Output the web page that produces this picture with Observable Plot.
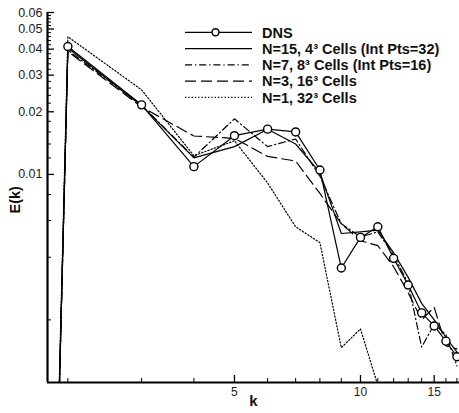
<!DOCTYPE html>
<html><head><meta charset="utf-8">
<script src="https://cdn.jsdelivr.net/npm/d3@7"></script>
<script src="https://cdn.jsdelivr.net/npm/@observablehq/plot@0.6"></script>
<style>
body{margin:0;background:#fff;}
#wrap{position:relative;width:459px;height:413px;font-family:"Liberation Sans",Arial,Helvetica,sans-serif;}
#legend{position:absolute;left:0;top:0;pointer-events:none;}
</style></head><body><div id="wrap"></div>
<script>
// ---- data ----
const k = [1,2,3,4,5,6,7,8,9,10,11,12,13,14,15,16,17];
const eDNS = [3e-26,0.0412,0.0216,0.0109,0.01535,0.0165,0.0160,0.0105,0.00355,0.00498,0.0056,0.00395,0.00294,0.00216,0.00187,0.00158,0.00133];
const eN15 = [3e-26,0.0405,0.0214,0.0120,0.0136,0.0165,0.0140,0.0102,0.0052,0.0053,0.0054,0.0042,0.0032,0.0024,0.0020,0.00165,0.0014];
const eN7  = [3e-26,0.0395,0.0215,0.0121,0.0185,0.0136,0.0148,0.0098,0.0058,0.0050,0.0053,0.0041,0.0030,0.00148,0.0019,0.0017,0.0012];
const eN3  = [3e-26,0.0390,0.0211,0.0153,0.0149,0.0122,0.0116,0.0081,0.0058,0.0048,0.00455,0.0036,0.0027,0.0020,0.0023,0.0015,0.00145];
const eN1  = [3e-26,0.0459,0.0255,0.0123,0.0145,0.0091,0.0056,0.0047,0.00147,0.00181,0.00097];
const seriesNames = ["DNS","N=15, 4³ Cells (Int Pts=32)","N=7, 8³ Cells (Int Pts=16)","N=3, 16³ Cells","N=1, 32³ Cells"];
const xMajor = [5,10,15];
const xMinor = [2,3,4,6,7,8,9,11,12,13,14,16,17];
const yMajor = [0.01,0.02,0.03,0.04,0.05,0.06];
const yMinor = [0.002,0.004,0.006,0.008].concat(d3.range(12,60,2).filter(v=>v%10!==0).map(v=>v/1000));

// ---- styles ----
const dashes = [null,null,"7,3,1.2,3","11,5","1.3,2"];
const seriesE = [eDNS,eN15,eN7,eN3,eN1];
const rows = seriesE.map((arr,i)=>arr.map((e,j)=>({k:k[j],E:e,s:seriesNames[i]})));

const W=459,H=413,mt=12,mb=31,ml=47,mr=0;
const fh=H-mt-mb, fw=W-ml-mr;
const xDom=[1.788,17.24], yDom=[0.001,0.06];

const marks = [];
rows.forEach((r,i)=>{
  marks.push(Plot.line(r,{x:"k",y:"E",stroke:"black",strokeWidth:1.2,strokeDasharray:dashes[i],clip:true}));
});
marks.push(Plot.dot(rows[0].slice(1),{x:"k",y:"E",r:4,stroke:"black",fill:"white",strokeWidth:1.4,clip:true}));
marks.push(Plot.tickX(xMajor,{x:d=>d,insetTop:fh-7,stroke:"black",strokeWidth:1.3}));
marks.push(Plot.tickX(xMinor,{x:d=>d,insetTop:fh-4,stroke:"black",strokeWidth:1}));
marks.push(Plot.tickY(yMajor,{y:d=>d,insetRight:fw-7,stroke:"black",strokeWidth:1.3}));
marks.push(Plot.tickY(yMinor,{y:d=>d,insetRight:fw-4,stroke:"black",strokeWidth:1}));
marks.push(Plot.axisX(xMajor,{tickSize:0,tickPadding:5,tickFormat:d=>String(d),label:null,fontSize:12,fill:"#222"}));
marks.push(Plot.axisY(yMajor,{tickSize:0,tickPadding:5,tickFormat:d=>d.toFixed(2),label:null,fontSize:12.5,fill:"#222"}));
marks.push(Plot.ruleY([yDom[0]],{stroke:"black",strokeWidth:2.2}));
marks.push(Plot.ruleX([xDom[0]],{stroke:"black",strokeWidth:2.2}));
marks.push(Plot.text(["k"],{frameAnchor:"bottom",dy:23,fontSize:15,fontWeight:"bold",fill:"#111"}));
marks.push(Plot.text(["E(k)"],{frameAnchor:"left",dx:-32,dy:16,rotate:-90,fontSize:14.5,fontWeight:"bold",fill:"#111"}));

const chart = Plot.plot({
  width:W,height:H,marginTop:mt,marginBottom:mb,marginLeft:ml,marginRight:mr,
  style:{fontFamily:'"Liberation Sans",Arial,sans-serif',background:"white",overflow:"visible"},
  x:{type:"log",domain:xDom},
  y:{type:"log",domain:yDom},
  marks
});
const wrap=document.getElementById("wrap");
wrap.appendChild(chart);

// ---- legend overlay ----
const ns="http://www.w3.org/2000/svg";
const lg=document.createElementNS(ns,"svg");
lg.setAttribute("id","legend");lg.setAttribute("width",W);lg.setAttribute("height",H);
const lx1=185,lx2=252,tx=262,ly0=32.3,ldy=16.25;
seriesNames.forEach((name,i)=>{
  const y=ly0+i*ldy;
  const ln=document.createElementNS(ns,"line");
  ln.setAttribute("x1",lx1);ln.setAttribute("x2",lx2);ln.setAttribute("y1",y);ln.setAttribute("y2",y);
  ln.setAttribute("stroke","black");ln.setAttribute("stroke-width",1.2);
  if(dashes[i]) ln.setAttribute("stroke-dasharray",dashes[i]);
  lg.appendChild(ln);
  if(i===0){
    const c=document.createElementNS(ns,"circle");
    c.setAttribute("cx",(lx1+lx2)/2-3);c.setAttribute("cy",y);c.setAttribute("r",3.5);
    c.setAttribute("fill","white");c.setAttribute("stroke","black");c.setAttribute("stroke-width",1.4);
    lg.appendChild(c);
  }
  const t=document.createElementNS(ns,"text");
  t.setAttribute("x",tx);t.setAttribute("y",y);t.setAttribute("dy","0.36em");
  t.setAttribute("font-size","14.5");t.setAttribute("font-weight","bold");
  t.setAttribute("font-family",'"Liberation Sans",Arial,sans-serif');t.setAttribute("fill","#111");
  t.textContent=name;
  lg.appendChild(t);
});
wrap.appendChild(lg);
</script>
</body></html>
